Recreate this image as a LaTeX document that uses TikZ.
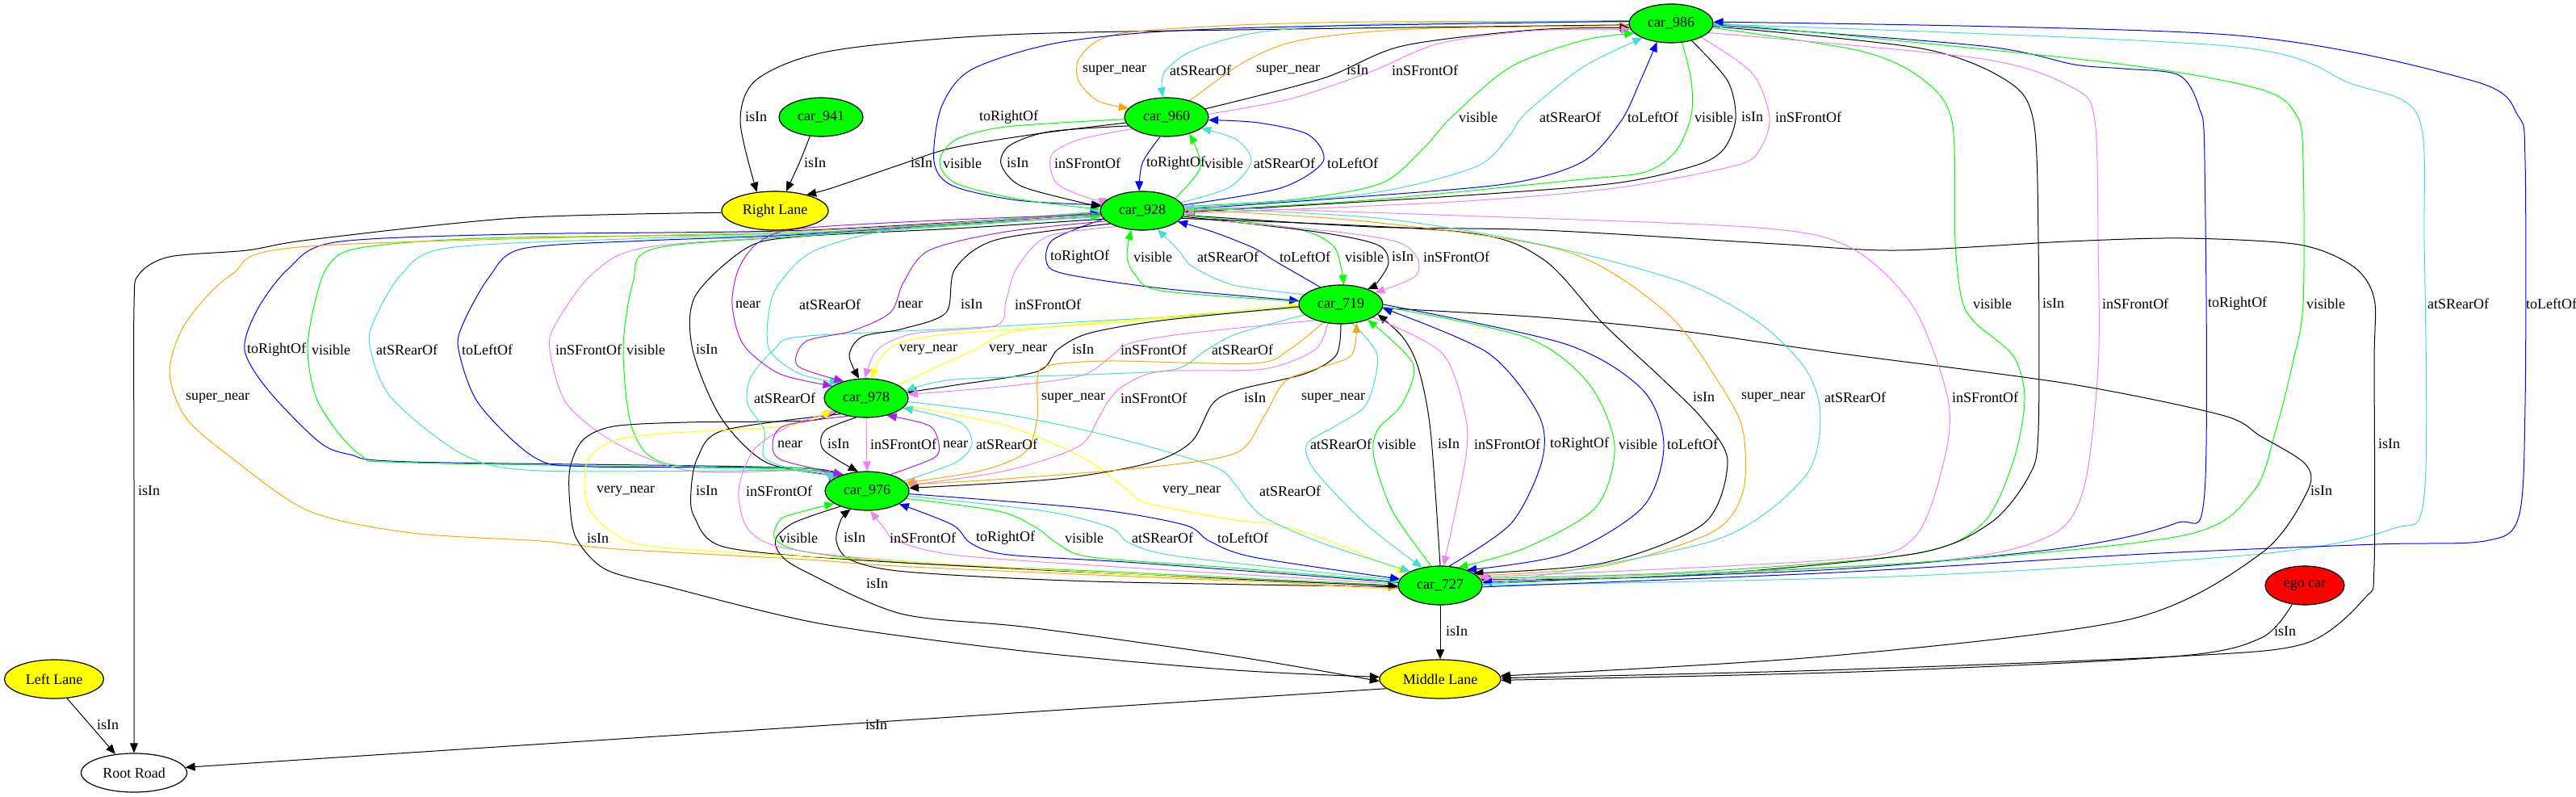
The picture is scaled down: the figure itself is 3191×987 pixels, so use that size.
\documentclass[tikz,border=0pt]{standalone}
\usepackage{fontspec}
\setmainfont{Liberation Serif}
\usetikzlibrary{arrows.meta,shapes.geometric,backgrounds}
\definecolor{CarGreen}{RGB}{0,255,0}
\definecolor{LaneYellow}{RGB}{255,255,0}
\definecolor{EgoRed}{RGB}{255,0,0}
\definecolor{Turq}{RGB}{64,224,208}
\definecolor{Viol}{RGB}{238,130,238}
\definecolor{Purp}{RGB}{160,32,240}
\definecolor{Orng}{RGB}{255,165,0}
\definecolor{Blu}{RGB}{0,0,255}
\tikzset{
  obj/.style={ellipse, draw, line width=1.2pt, inner sep=0pt, minimum height=48pt, font=\fontsize{18}{21}\selectfont},
  car/.style={obj, fill=CarGreen, minimum width=104pt},
  lane/.style={obj, fill=LaneYellow},
  lbl/.style={anchor=west, inner sep=0pt, font=\fontsize{18}{21}\selectfont},
  rel/.style={line width=1pt, -{Triangle[length=12pt,width=10pt]}},
  eIsIn/.style={rel, black},
  eVis/.style={rel, CarGreen},
  eFront/.style={rel, Viol},
  eRear/.style={rel, Turq},
  eSide/.style={rel, Blu},
  eNear/.style={rel, Purp},
  eVNear/.style={rel, LaneYellow},
  eSNear/.style={rel, Orng}
}
\begin{document}
\begin{tikzpicture}[x=1pt, y=-1pt]
\useasboundingbox (0,0) rectangle (3191,987);
\node[car] (car986) at (2070,29) {car\_986};
\node[car] (car941) at (1017,145) {car\_941};
\node[car] (car960) at (1445,145) {car\_960};
\node[lane, minimum width=132pt] (rlane) at (960,261) {Right Lane};
\node[car] (car928) at (1415,261) {car\_928};
\node[car] (car719) at (1661,377) {car\_719};
\node[car] (car978) at (1073,493) {car\_978};
\node[car] (car976) at (1074,608) {car\_976};
\node[car] (car727) at (1784,725) {car\_727};
\node[obj, fill=EgoRed, minimum width=98pt] (ego) at (2855,725) {ego car};
\node[lane, minimum width=123pt] (llane) at (67,841) {Left Lane};
\node[lane, minimum width=150pt] (mlane) at (1784,841) {Middle Lane};
\node[obj, fill=white, minimum width=131pt] (road) at (166,957) {Root Road};

\begin{scope}[on background layer]
\draw[eIsIn] plot[smooth] coordinates {(car986.182) (1600,36) (1246,43) (1030,63) (938,98) (917,150) (rlane.134)};
\draw[eIsIn] plot[smooth] coordinates {(car941.240) (990,202) (rlane.60)};
\draw[eIsIn] plot[smooth] coordinates {(car960.188) (1290,165) (1180,183) (1112,205) (1030,233) (rlane.27)};
\draw[eSNear] plot[smooth] coordinates {(car986.178) (1700,27) (1514,32) (1380,43) (1338,70) (1336,100) (1360,125) (car960.167)};
\draw[eRear] plot[smooth] coordinates {(car986.176) (1700,30) (1560,40) (1479,62) (1442,90) (car960.100)};
\draw[eSNear] plot[smooth] coordinates {(car960.35) (1541,77) (1610,50) (1750,36) (car986.183)};
\draw[eIsIn] plot[smooth] coordinates {(car960.12) (1639,97) (1737,57) (1900,37) (car986.186)};
\draw[eFront] plot[smooth] coordinates {(car960.4) (1600,122) (1700,88) (1782,54) (1900,38) (car986.189)};
\draw[eSide] plot[smooth] coordinates {(car986.177) (1604,33) (1425,40) (1300,55) (1202,87) (1166,133) (1157,200) (1180,230) (1260,248) (car928.172)};
\draw[eVis] plot[smooth] coordinates {(car960.183) (1246,157) (1184,173) (1164,200) (1184,227) (1264,247) (car928.178)};
\draw[eIsIn] plot[smooth] coordinates {(car960.193) (1300,163) (1251,180) (1240,203) (1264,230) (1336,250) (car928.174)};
\draw[eFront] plot[smooth] coordinates {(car960.199) (1336,173) (1302,193) (1309,227) (1354,247) (car928.160)};
\draw[eSide] plot[smooth] coordinates {(car960.-108) (1415,202) (car928.99)};
\draw[eVis] plot[smooth] coordinates {(car928.21) (1487,207) (car960.-36)};
\draw[eRear] plot[smooth] coordinates {(car928.12) (1523,232) (1550,200) (1532,173) (car960.-18)};
\draw[eSide] plot[smooth] coordinates {(car928.8) (1586,233) (1639,200) (1621,167) (1559,152) (car960.-4)};
\draw[eVis] plot[smooth] coordinates {(car928.6) (1604,247) (1711,227) (1764,183) (1798,145) (1871,83) (1961,50) (car986.195)};
\draw[eRear] plot[smooth] coordinates {(car928.4) (1693,240) (1827,207) (1868,170) (1890,140) (1961,83) (car986.207)};
\draw[eSide] plot[smooth] coordinates {(car928.2) (1693,243) (1871,227) (1961,200) (2008,150) (2032,100) (car986.233)};
\draw[eVis] plot[smooth] coordinates {(car986.-60) (2095,100) (2095,143) (2076,187) (2038,213) (1961,222) (1693,248) (car928.0)};
\draw[eIsIn] plot[smooth] coordinates {(car986.-40) (2140,100) (2150,147) (2135,185) (2100,205) (2000,227) (1800,243) (car928.-2)};
\draw[eFront] plot[smooth] coordinates {(car986.-25) (2170,90) (2192,145) (2180,185) (2150,205) (2000,233) (1800,250) (car928.-4)};
\draw[eVis] plot[smooth] coordinates {(car986.-6) (2304,63) (2380,97) (2418,150) (2422,300) (2430,370) (2446,399) (2494,441) (2508,494) (2494,571) (2456,648) (2370,686) (2083,709) (car727.10)};
\draw[eIsIn] plot[smooth] coordinates {(car986.-4) (2380,60) (2486,100) (2519,150) (2525,300) (2525,533) (2513,590) (2465,648) (2370,686) (2083,713) (car727.8)};
\draw[eFront] plot[smooth] coordinates {(car986.-14) (2456,73) (2570,110) (2595,150) (2599,300) (2599,456) (2580,609) (2532,667) (2370,697) (car727.6)};
\draw[eSide] plot[smooth] coordinates {(car986.-2) (2456,57) (2570,80) (2630,85) (2699,93) (2724,133) (2731,200) (2731,609) (2695,648) (2561,678) (2274,705) (car727.4)};
\draw[eVis] plot[smooth] coordinates {(car727.2) (2370,697) (2705,663) (2791,609) (2819,533) (2840,450) (2853,376) (2853,200) (2845,143) (2798,110) (2608,77) (car986.1)};
\draw[eRear] plot[smooth] coordinates {(car727.0) (2370,713) (2800,686) (2963,655) (3003,613) (3003,300) (2995,143) (2911,103) (2760,57) (car986.-1)};
\draw[eSide] plot[smooth] coordinates {(car727.-2) (2274,709) (2657,686) (2944,674) (3078,670) (3120,640) (3128,500) (3128,200) (3119,143) (3063,100) (2760,43) (car986.2)};
\draw[eIsIn] plot[smooth] coordinates {(car928.-6) (1700,281) (1910,285) (2200,302) (2350,310) (2561,299) (2705,295) (2848,303) (2915,330) (2941,370) (2941,450) (2941,700) (2930,740) (2855,797) (2693,813) (2259,830) (mlane.1)};
\draw[eIsIn] plot[smooth] coordinates {(car719.-5) (1910,393) (2083,410) (2274,437) (2561,475) (2752,514) (2800,540) (2856,575) (2858,609) (2800,686) (2638,767) (2259,813) (mlane.3)};
\draw[eIsIn] plot[smooth] coordinates {(ego.236) (2801,790) (2693,813) (2300,832) (mlane.-1)};
\draw[eIsIn] (car727.-90) -- (mlane.90);
\draw[eIsIn] (mlane.190) -- (road.6);
\draw[eIsIn] (llane.-56) -- (road.135);
\draw[eIsIn] plot[smooth] coordinates {(rlane.182) (638,270) (383,297) (306,310) (210,318) (172,340) (166,380) (166,600) (road.90)};
\draw[eIsIn] plot[smooth] coordinates {(car928.192) (1183,283) (991,293) (925,307) (861,367) (858,433) (893,517) (950,573) (car976.151)};
\draw[eSide] plot[smooth] coordinates {(car928.183) (1000,285) (638,290) (415,300) (357,333) (319,383) (303,433) (332,483) (395,547) (434,563) (510,572) (1000,580) (car976.170)};
\draw[eVis] plot[smooth] coordinates {(car928.182) (1000,288) (600,295) (446,307) (408,327) (392,367) (381,433) (395,500) (446,563) (510,573) (1000,582) (car976.167)};
\draw[eRear] plot[smooth] coordinates {(car976.165) (1000,583) (670,583) (574,563) (485,493) (459,433) (462,400) (497,340) (555,307) (800,295) (1000,289) (car928.181)};
\draw[eSide] plot[smooth] coordinates {(car976.168) (1000,580) (733,578) (663,567) (593,500) (568,433) (574,400) (606,343) (647,308) (800,298) (1000,290) (car928.184)};
\draw[eFront] plot[smooth] coordinates {(car928.186) (1000,291) (797,307) (733,340) (689,400) (681,433) (702,500) (765,550) (855,583) (1000,583) (car976.162)};
\draw[eVis] plot[smooth] coordinates {(car976.160) (1000,580) (829,575) (784,533) (772,433) (784,350) (810,308) (1000,292) (car928.187)};
\draw[eSNear] plot[smooth] coordinates {(car928.184) (1000,286) (383,305) (287,340) (230,400) (210,460) (230,517) (287,567) (383,633) (510,660) (670,670) (765,680) (1000,693) (1150,703) (car727.183)};
\draw[eIsIn] plot[smooth] coordinates {(car978.205) (1000,521) (850,523) (760,528) (722,545) (706,580) (706,625) (714,667) (750,705) (829,727) (1020,773) (1275,807) (1531,830) (mlane.178)};
\draw[eIsIn] plot[smooth] coordinates {(car976.210) (984,647) (961,667) (967,687) (996,707) (1116,760) (1275,777) (1531,813) (mlane.182)};
\draw[eIsIn] plot[smooth] coordinates {(car727.182) (1352,720) (1122,708) (1053,693) (1036,670) (1042,643) (car976.228)};
\draw[eVis] plot[smooth] coordinates {(car727.180) (1352,707) (1122,697) (996,683) (960,667) (967,643) (996,633) (car976.201)};
\draw[eFront] plot[smooth] coordinates {(car727.178) (1352,700) (1180,687) (1111,670) (1096,655) (car976.280)};
\draw[eSide] plot[smooth] coordinates {(car727.176) (1409,697) (1249,687) (1203,673) (1180,650) (car976.338)};
\draw[eVis] plot[smooth] coordinates {(car976.349) (1237,633) (1283,653) (1310,673) (1352,690) (1524,703) (car727.175)};
\draw[eRear] plot[smooth] coordinates {(car976.353) (1294,633) (1375,653) (1400,673) (1467,690) (car727.173)};
\draw[eSide] plot[smooth] coordinates {(car976.356) (1352,630) (1467,650) (1498,670) (1553,690) (car727.171)};
\draw[eVNear] plot[smooth] coordinates {(car978.349) (1246,527) (1342,567) (1395,605) (1421,623) (1524,643) (1581,650) (1639,667) (car727.160)};
\draw[eRear] plot[smooth] coordinates {(car978.355) (1246,513) (1374,540) (1502,577) (1530,600) (1547,623) (1570,643) (1639,673) (car727.155)};
\draw[eIsIn] plot[smooth] coordinates {(car978.212) (896,533) (864,567) (856,608) (860,640) (896,677) (1055,693) (1374,710) (car727.181)};
\draw[eFront] plot[smooth] coordinates {(car727.184) (1150,697) (979,680) (928,657) (915,608) (934,557) (979,527) (car978.203)};
\draw[eVNear] plot[smooth] coordinates {(car727.186) (1150,697) (820,678) (756,657) (727,623) (727,573) (756,547) (820,537) (979,527) (car978.198)};
\draw[eRear] plot[smooth] coordinates {(car719.185) (1438,393) (1183,407) (991,417) (959,433) (930,467) (926,500) (947,533) (947,567) (991,583) (car976.153)};
\draw[eVNear] plot[smooth] coordinates {(car719.184) (1374,400) (1183,413) (1119,423) (1093,440) (car978.75)};
\draw[eVNear] plot[smooth] coordinates {(car978.22) (1170,450) (1208,433) (1259,410) (1438,393) (car719.181)};
\draw[eIsIn] plot[smooth] coordinates {(car719.183) (1438,397) (1348,413) (1310,433) (1285,460) (1183,477) (car978.8)};
\draw[eFront] plot[smooth] coordinates {(car719.212) (1470,413) (1400,425) (1378,440) (1340,465) (1250,478) (car978.5)};
\draw[eRear] plot[smooth] coordinates {(car719.196) (1533,413) (1495,433) (1457,457) (1374,463) (1183,470) (car978.10)};
\draw[eSNear] plot[smooth] coordinates {(car719.226) (1597,433) (1553,450) (1374,447) (1297,453) (1285,470) (1285,517) (1270,560) (1215,583) (car976.12)};
\draw[eFront] plot[smooth] coordinates {(car719.235) (1629,433) (1565,457) (1438,460) (1393,477) (1374,495) (1361,517) (1336,553) (1246,583) (car976.8)};
\draw[eIsIn] plot[smooth] coordinates {(car719.270) (1655,440) (1616,463) (1533,483) (1502,500) (1476,547) (1425,573) (1310,593) (car976.4)};
\draw[eSNear] plot[smooth] coordinates {(car976.9) (1246,593) (1438,577) (1533,560) (1565,517) (1591,473) (1629,457) (1674,440) (car719.-50)};
\draw[eSide] plot[smooth] coordinates {(car928.192) (1304,297) (1297,327) (1323,340) (1438,357) (car719.175)};
\draw[eVis] plot[smooth] coordinates {(car719.176) (1438,360) (1406,340) (1396,317) (car928.240)};
\draw[eRear] plot[smooth] coordinates {(car719.165) (1528,353) (1477,330) (1460,310) (car928.309)};
\draw[eSide] plot[smooth] coordinates {(car719.140) (1579,323) (1553,307) (1502,287) (car928.343)};
\draw[eVis] plot[smooth] coordinates {(car928.354) (1604,283) (1650,303) (1661,330) (car719.82)};
\draw[eIsIn] plot[smooth] coordinates {(car928.352) (1630,287) (1706,303) (1720,325) (1706,350) (car719.30)};
\draw[eFront] plot[smooth] coordinates {(car928.350) (1655,287) (1732,300) (1756,320) (1752,343) (car719.19)};
\draw[eRear] plot[smooth] coordinates {(car719.300) (1706,440) (1693,500) (1655,527) (1619,550) (1629,583) (1693,650) (car727.135)};
\draw[eVis] plot[smooth] coordinates {(car727.115) (1725,633) (1702,567) (1706,533) (1737,500) (1750,450) (car719.330)};
\draw[eIsIn] plot[smooth] coordinates {(car727.90) (1772,533) (1757,456) (1738,418) (car719.345)};
\draw[eFront] plot[smooth] coordinates {(car719.338) (1786,437) (1815,514) (1815,571) (car727.80)};
\draw[eSide] plot[smooth] coordinates {(car727.65) (1872,648) (1910,571) (1906,514) (1843,437) (car719.355)};
\draw[eVis] plot[smooth] coordinates {(car719.357) (1891,418) (1968,475) (2000,552) (1977,628) (1891,678) (car727.45)};
\draw[eSide] plot[smooth] coordinates {(car719.0) (1939,426) (2035,483) (2061,552) (2035,628) (1939,686) (car727.30)};
\draw[eIsIn] plot[smooth] coordinates {(car928.349) (1808,287) (1910,320) (1985,400) (2060,470) (2110,520) (2140,571) (2111,648) (1987,697) (car727.20)};
\draw[eSNear] plot[smooth] coordinates {(car727.15) (1987,701) (2121,659) (2159,609) (2159,533) (2130,475) (2064,387) (1939,311) (1700,275) (car928.2)};
\draw[eRear] plot[smooth] coordinates {(car727.1) (1891,716) (2130,667) (2236,590) (2255,514) (2236,456) (2178,399) (2083,349) (1910,303) (1706,270) (car928.4)};
\draw[eFront] plot[smooth] coordinates {(car928.6) (1808,267) (2178,282) (2293,307) (2370,380) (2413,494) (2408,571) (2370,667) (2274,693) (car727.12)};
\draw[eNear] plot[smooth] coordinates {(car928.185) (1183,272) (991,283) (940,300) (915,333) (907,377) (921,427) (966,463) (car978.160)};
\draw[eRear] plot[smooth] coordinates {(car928.189) (1119,283) (1010,310) (966,350) (953,383) (953,433) (991,463) (car978.150)};
\draw[eNear] plot[smooth] coordinates {(car928.196) (1246,287) (1151,310) (1119,350) (1103,387) (1055,410) (998,423) (988,453) (car978.143)};
\draw[eIsIn] plot[smooth] coordinates {(car928.202) (1234,297) (1183,333) (1172,387) (1119,407) (1068,417) (1052,440) (car978.110)};
\draw[eFront] plot[smooth] coordinates {(car928.212) (1297,293) (1259,333) (1246,373) (1234,403) (1132,413) (1087,433) (car978.93)};
\draw[eNear] plot[smooth] coordinates {(car978.225) (972,527) (957,550) (969,570) (car976.145)};
\draw[eIsIn] plot[smooth] coordinates {(car978.243) (1022,533) (1020,557) (car976.115)};
\draw[eFront] (car978.270) -- (car976.90);
\draw[eNear] plot[smooth] coordinates {(car976.35) (1157,567) (1163,550) (1151,527) (car978.320)};
\draw[eRear] plot[smooth] coordinates {(car976.15) (1183,573) (1204,550) (1189,523) (car978.345)};
\end{scope}

\node[lbl] (l1) at (923,145) {isIn};
\node[lbl] (l2) at (996,202) {isIn};
\node[lbl] (l3) at (1128,202) {isIn};
\node[lbl] (l4) at (1341,87) {super\_near};
\node[lbl] (l5) at (1449,87) {atSRearOf};
\node[lbl] (l6) at (1556,87) {super\_near};
\node[lbl] (l7) at (1668,87) {isIn};
\node[lbl] (l8) at (1724,87) {inSFrontOf};
\node[lbl] (l9) at (1213,145) {toRightOf};
\node[lbl] (l10) at (1168,202) {visible};
\node[lbl] (l11) at (1247,202) {isIn};
\node[lbl] (l12) at (1306,202) {inSFrontOf};
\node[lbl] (l13) at (1420,202) {toRightOf};
\node[lbl] (l14) at (1492,202) {visible};
\node[lbl] (l15) at (1553,202) {atSRearOf};
\node[lbl] (l16) at (1644,202) {toLeftOf};
\node[lbl] (l17) at (1807,145) {visible};
\node[lbl] (l18) at (1907,145) {atSRearOf};
\node[lbl] (l19) at (2016,145) {toLeftOf};
\node[lbl] (l20) at (2099,145) {visible};
\node[lbl] (l21) at (2157,145) {isIn};
\node[lbl] (l22) at (2199,145) {inSFrontOf};
\node[lbl] (l23) at (2444,376) {visible};
\node[lbl] (l24) at (2530,376) {isIn};
\node[lbl] (l25) at (2604,376) {inSFrontOf};
\node[lbl] (l26) at (2735,376) {toRightOf};
\node[lbl] (l27) at (2857,376) {visible};
\node[lbl] (l28) at (3007,376) {atSRearOf};
\node[lbl] (l29) at (3129,376) {toLeftOf};
\node[lbl] (l30) at (2946,550) {isIn};
\node[lbl] (l31) at (2862,608) {isIn};
\node[lbl] (l32) at (2817,782) {isIn};
\node[lbl] (l33) at (1791,782) {isIn};
\node[lbl] (l34) at (1072,898) {isIn};
\node[lbl] (l35) at (120,898) {isIn};
\node[lbl] (l36) at (171,608) {isIn};
\node[lbl] (l37) at (862,433) {isIn};
\node[lbl] (l38) at (306,433) {toRightOf};
\node[lbl] (l39) at (386,433) {visible};
\node[lbl] (l40) at (466,433) {atSRearOf};
\node[lbl] (l41) at (572,433) {toLeftOf};
\node[lbl] (l42) at (688,433) {inSFrontOf};
\node[lbl] (l43) at (776,433) {visible};
\node[lbl] (l44) at (230,493) {super\_near};
\node[lbl] (l45) at (727,667) {isIn};
\node[lbl] (l46) at (1073,723) {isIn};
\node[lbl] (l47) at (1045,666) {isIn};
\node[lbl] (l48) at (965,666) {visible};
\node[lbl] (l49) at (1102,666) {inSFrontOf};
\node[lbl] (l50) at (1209,666) {toRightOf};
\node[lbl] (l51) at (1319,666) {visible};
\node[lbl] (l52) at (1402,666) {atSRearOf};
\node[lbl] (l53) at (1508,666) {toLeftOf};
\node[lbl] (l54) at (1440,608) {very\_near};
\node[lbl] (l55) at (1560,608) {atSRearOf};
\node[lbl] (l56) at (862,608) {isIn};
\node[lbl] (l57) at (924,608) {inSFrontOf};
\node[lbl] (l58) at (739,608) {very\_near};
\node[lbl] (l59) at (934,493) {atSRearOf};
\node[lbl] (l60) at (1114,433) {very\_near};
\node[lbl] (l61) at (1225,433) {very\_near};
\node[lbl] (l62) at (1328,433) {isIn};
\node[lbl] (l63) at (1388,433) {inSFrontOf};
\node[lbl] (l64) at (1501,433) {atSRearOf};
\node[lbl] (l65) at (1290,493) {super\_near};
\node[lbl] (l66) at (1388,493) {inSFrontOf};
\node[lbl] (l67) at (1541,493) {isIn};
\node[lbl] (l68) at (1612,493) {super\_near};
\node[lbl] (l69) at (1301,318) {toRightOf};
\node[lbl] (l70) at (1404,318) {visible};
\node[lbl] (l71) at (1483,318) {atSRearOf};
\node[lbl] (l72) at (1585,318) {toLeftOf};
\node[lbl] (l73) at (1666,318) {visible};
\node[lbl] (l74) at (1724,318) {isIn};
\node[lbl] (l75) at (1763,318) {inSFrontOf};
\node[lbl] (l76) at (1623,550) {atSRearOf};
\node[lbl] (l77) at (1706,550) {visible};
\node[lbl] (l78) at (1781,550) {isIn};
\node[lbl] (l79) at (1826,550) {inSFrontOf};
\node[lbl] (l80) at (1920,550) {toRightOf};
\node[lbl] (l81) at (2005,550) {visible};
\node[lbl] (l82) at (2065,550) {toLeftOf};
\node[lbl] (l83) at (2097,492) {isIn};
\node[lbl] (l84) at (2157,492) {super\_near};
\node[lbl] (l85) at (2260,492) {atSRearOf};
\node[lbl] (l86) at (2418,492) {inSFrontOf};
\node[lbl] (l87) at (911,377) {near};
\node[lbl] (l88) at (990,377) {atSRearOf};
\node[lbl] (l89) at (1112,377) {near};
\node[lbl] (l90) at (1190,377) {isIn};
\node[lbl] (l91) at (1257,377) {inSFrontOf};
\node[lbl] (l92) at (963,550) {near};
\node[lbl] (l93) at (1025,550) {isIn};
\node[lbl] (l94) at (1078,550) {inSFrontOf};
\node[lbl] (l95) at (1168,550) {near};
\node[lbl] (l96) at (1209,550) {atSRearOf};
\end{tikzpicture}
\end{document}
